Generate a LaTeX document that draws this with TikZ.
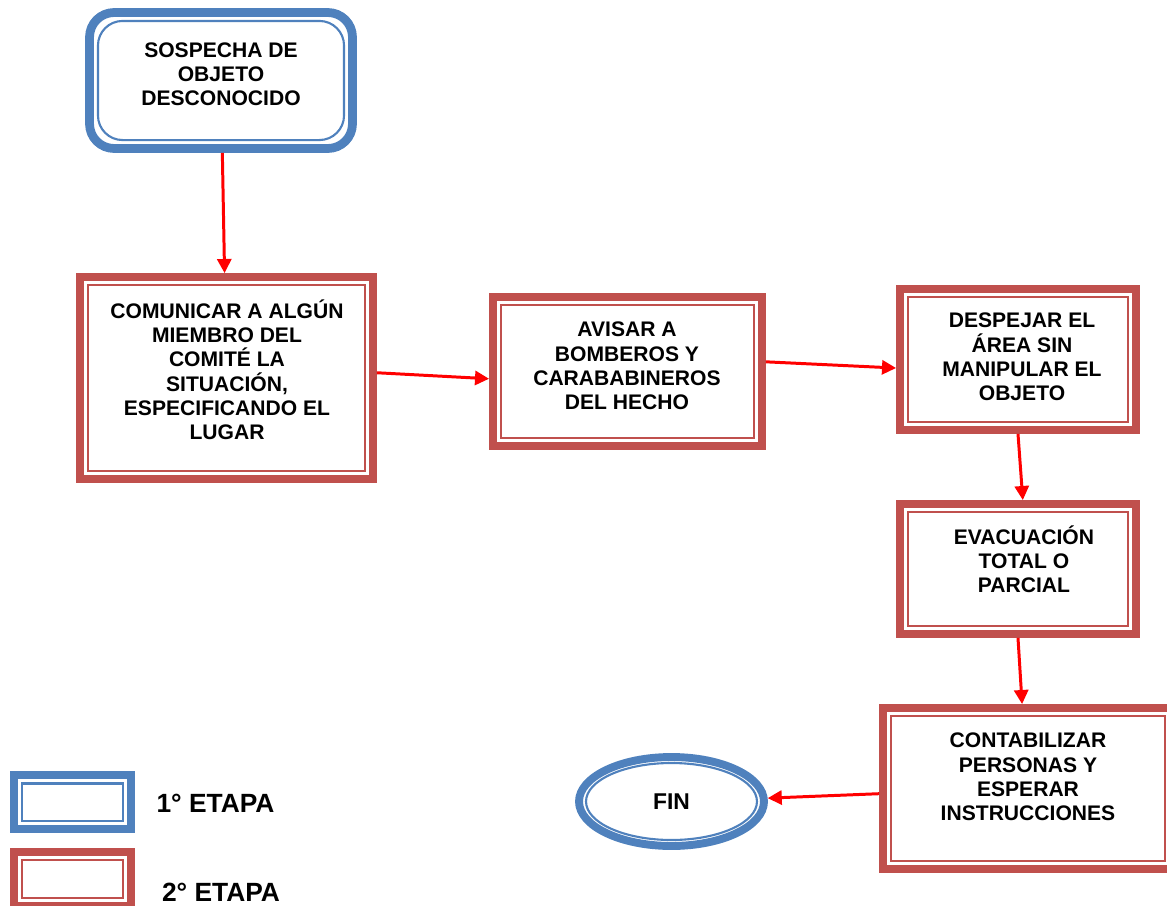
\documentclass[tikz,border=0pt]{standalone}
\usepackage{fontspec}
\setmainfont{Liberation Sans}
\usetikzlibrary{arrows.meta,shapes.geometric}
\definecolor{azuletapa}{HTML}{4F81BD}
\definecolor{rojoetapa}{HTML}{C0504D}
\definecolor{rojoflecha}{HTML}{FF0000}

\begin{document}
\begin{tikzpicture}[
	x=0.02cm, y=-0.02cm,
	texto/.style={font=\fontsize{12}{13.8}\selectfont\bfseries, align=center, anchor=base, inner sep=0pt},
	leyenda/.style={font=\fontsize{15}{18}\selectfont\bfseries, inner sep=0pt},
	etapauno/.style={rectangle, draw=azuletapa, line width=5pt, fill=white,
		path picture={\draw[azuletapa, line width=1.2pt]
			([shift={(4.8pt,-4.8pt)}]path picture bounding box.north west) rectangle
			([shift={(-4.8pt,4.8pt)}]path picture bounding box.south east);}},
	etapados/.style={rectangle, draw=rojoetapa, line width=4.5pt, fill=white,
		path picture={\draw[rojoetapa, line width=1.2pt]
			([shift={(4.5pt,-4.5pt)}]path picture bounding box.north west) rectangle
			([shift={(-4.5pt,4.5pt)}]path picture bounding box.south east);}},
	final/.style={ellipse, draw=azuletapa, line width=4.5pt, fill=white,
		path picture={\draw[azuletapa, line width=1.2pt]
			(path picture bounding box.center) ellipse [x radius=1.71cm, y radius=0.77cm];}},
	flecha/.style={-{Triangle[length=8pt,width=8pt]}, draw=rojoflecha, line width=1.7pt}
	]
	\useasboundingbox (0,0) rectangle (1167,906);

	% Cajas
	\node[etapauno, rounded corners=14pt, minimum width=5.26cm, minimum height=2.72cm] (sospecha) at (221,80.5) {};
	\node[etapados, minimum width=5.86cm, minimum height=4.04cm] (comunicar) at (226.5,378) {};
	\node[etapados, minimum width=5.38cm, minimum height=2.98cm] (avisar) at (627.5,371.5) {};
	\node[etapados, minimum width=4.72cm, minimum height=2.82cm] (despejar) at (1018,359.5) {};
	\node[etapados, minimum width=4.72cm, minimum height=2.6cm] (evacuacion) at (1018,569) {};
	\node[etapados, minimum width=5.8cm, minimum height=3.22cm] (contabilizar) at (1028,788.5) {};
	\node[final, minimum width=3.7cm, minimum height=1.78cm] (fin) at (671.5,801.5) {};

	% Textos (anclados en la linea de base de la ultima linea)
	\node[texto] (sospechatexto) at (221,105.5) {SOSPECHA DE\\OBJETO\\DESCONOCIDO};
	\node[texto] (comunicartexto) at (227,439.5) {COMUNICAR A ALGÚN\\MIEMBRO DEL\\COMITÉ LA\\SITUACIÓN,\\ESPECIFICANDO EL\\LUGAR};
	\node[texto] (avisartexto) at (627,409.5) {AVISAR A\\BOMBEROS Y\\CARABABINEROS\\DEL HECHO};
	\node[texto] (despejartexto) at (1022,400.5) {DESPEJAR EL\\ÁREA SIN\\MANIPULAR EL\\OBJETO};
	\node[texto] (evacuaciontexto) at (1024,592.5) {EVACUACIÓN\\TOTAL O\\PARCIAL};
	\node[texto] (contabilizartexto) at (1028,820.5) {CONTABILIZAR\\PERSONAS Y\\ESPERAR\\INSTRUCCIONES};
	\node[font=\fontsize{13}{15}\selectfont\bfseries, inner sep=0pt] (fintexto) at (fin) {FIN};

	% Flechas
	\draw[flecha] (sospecha) -- (comunicar);
	\draw[flecha] (comunicar.2) -- (avisar.183);
	\draw[flecha] (avisar.4) -- (despejar.184);
	\draw[flecha] (despejar.south) -- (evacuacion.86);
	\draw[flecha] (evacuacion.south) -- (contabilizar.94);
	\draw[flecha] (contabilizar.182) -- (fin.2);

	% Leyenda
	\node[etapauno, minimum width=2.34cm, minimum height=1.08cm] (leyuno) at (72.5,802) {};
	\node[etapados, minimum width=2.34cm, minimum height=1.08cm] (leydos) at (72.5,879) {};
	\node[leyenda] (leyunotexto) at (215.5,803) {1° ETAPA};
	\node[leyenda] (leydostexto) at (221,892) {2° ETAPA};
\end{tikzpicture}
\end{document}
